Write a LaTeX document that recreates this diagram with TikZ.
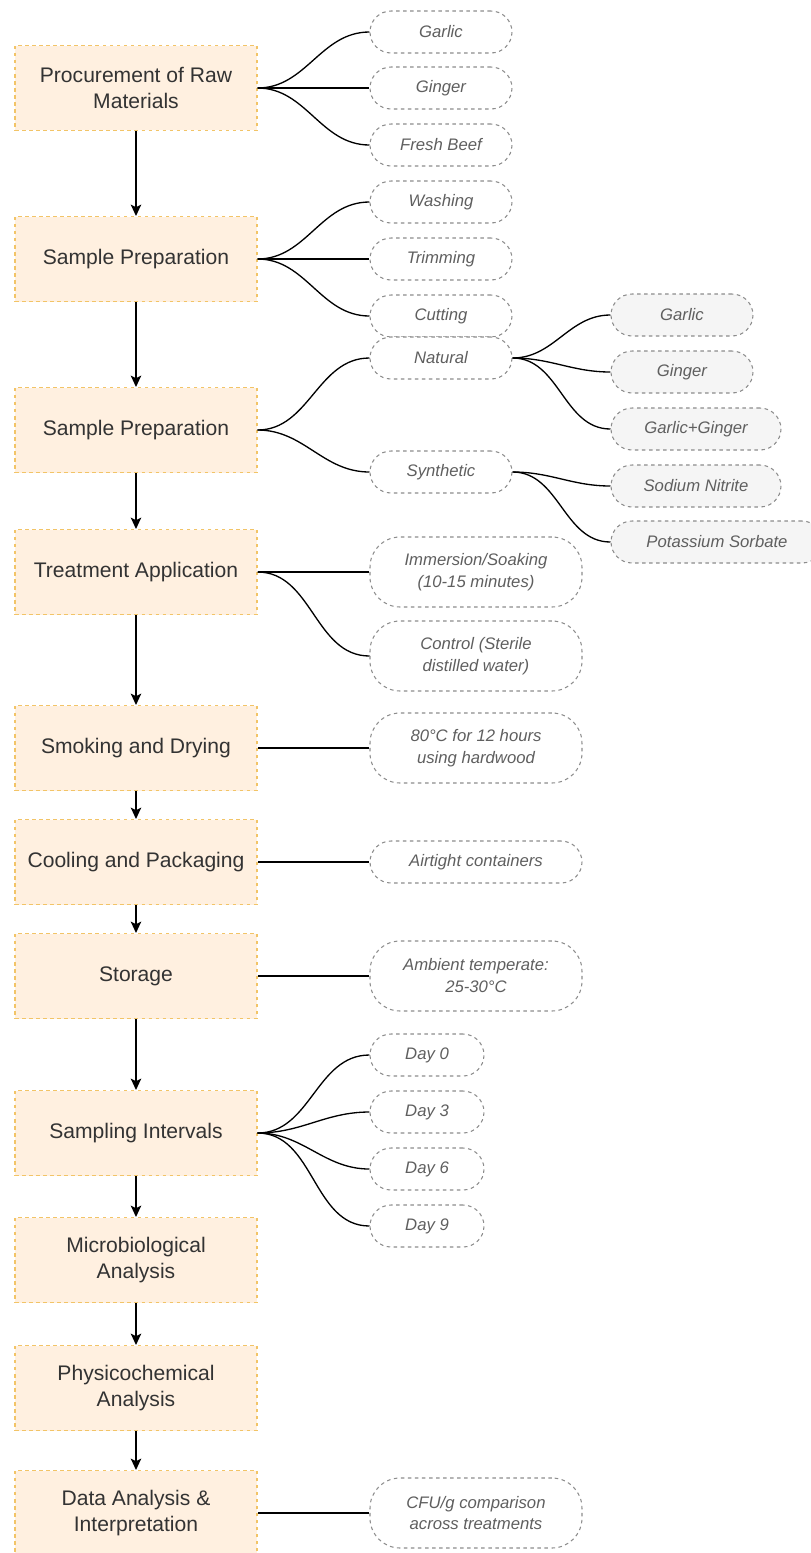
\documentclass[tikz,border=0pt]{standalone}
\usepackage{fontspec}
\setmainfont{Liberation Sans}
\usetikzlibrary{arrows.meta}

\definecolor{boxfill}{HTML}{FFF0E0}
\definecolor{boxline}{HTML}{F2C467}
\definecolor{boxtext}{HTML}{333333}
\definecolor{pillline}{HTML}{8C8C8C}
\definecolor{pilltext}{HTML}{5F5F5F}
\definecolor{subfill}{HTML}{F5F5F5}

\tikzset{
  stage/.style={draw=boxline, line width=0.6pt, dash pattern=on 2pt off 2pt, fill=boxfill,
    minimum width=4.84cm, minimum height=1.7cm, align=center, text=boxtext,
    font=\fontsize{12}{14.5}\selectfont},
  item/.style={draw=pillline, line width=0.6pt, dash pattern=on 2pt off 2pt, fill=white,
    rounded corners=0.42cm, minimum width=2.84cm, minimum height=0.84cm, align=center,
    text=pilltext, font=\fontsize{9.5}{12.5}\selectfont\itshape},
  tall/.style={item, minimum width=4.24cm, minimum height=1.4cm, rounded corners=0.6cm},
  sub/.style={item, fill=subfill},
  flow/.style={line width=0.75pt, -{Stealth[length=6.5pt,width=6pt,inset=1.5pt]}},
  link/.style={line width=0.75pt},
}

\begin{document}
\begin{tikzpicture}[x=0.02cm, y=-0.02cm]
    \useasboundingbox (0,0) rectangle (811,1553);

    % Fasi principali
    \node[stage] (raw) at (136,88) {Procurement of Raw\\Materials};
    \node[stage] (prep) at (136,259) {Sample Preparation};
    \node[stage] (prepb) at (136,430) {Sample Preparation};
    \node[stage] (apply) at (136,572) {Treatment Application};
    \node[stage] (smoke) at (136,748) {Smoking and Drying};
    \node[stage] (cool) at (136,862) {Cooling and Packaging};
    \node[stage] (store) at (136,976) {Storage};
    \node[stage] (interval) at (136,1133) {Sampling Intervals};
    \node[stage] (micro) at (136,1260) {Microbiological\\Analysis};
    \node[stage] (physico) at (136,1388) {Physicochemical\\Analysis};
    \node[stage] (data) at (136,1513) {Data Analysis \&\\Interpretation};

    % Frecce tra le fasi
    \draw[flow] (raw) -- (prep);
    \draw[flow] (prep) -- (prepb);
    \draw[flow] (prepb) -- (apply);
    \draw[flow] (apply) -- (smoke);
    \draw[flow] (smoke) -- (cool);
    \draw[flow] (cool) -- (store);
    \draw[flow] (store) -- (interval);
    \draw[flow] (interval) -- (micro);
    \draw[flow] (micro) -- (physico);
    \draw[flow] (physico) -- (data);

    % Materie prime
    \node[item] (garlic) at (441,32) {Garlic};
    \node[item] (ginger) at (441,88) {Ginger};
    \node[item] (beef) at (441,145) {Fresh Beef};
    \foreach \n in {garlic,ginger,beef}
        \draw[link] (raw.east) to[out=0,in=180] (\n.west);

    % Preparazione
    \node[item] (wash) at (441,202) {Washing};
    \node[item] (trim) at (441,259) {Trimming};
    \node[item] (cut) at (441,316) {Cutting};
    \foreach \n in {wash,trim,cut}
        \draw[link] (prep.east) to[out=0,in=180] (\n.west);

    % Conservanti
    \node[item] (natural) at (441,358) {Natural};
    \node[item] (synth) at (441,472) {Synthetic};
    \foreach \n in {natural,synth}
        \draw[link] (prepb.east) to[out=0,in=180] (\n.west);

    \node[sub] (garlicb) at (682,315) {Garlic};
    \node[sub] (gingerb) at (682,372) {Ginger};
    \node[sub, minimum width=3.4cm] (mix) at (696,429) {Garlic+Ginger};
    \foreach \n in {garlicb,gingerb,mix}
        \draw[link] (natural.east) to[out=0,in=180] (\n.west);

    \node[sub, minimum width=3.4cm] (nitrite) at (696,486) {Sodium Nitrite};
    \node[sub, minimum width=4.24cm] (sorbate) at (717,542) {Potassium Sorbate};
    \foreach \n in {nitrite,sorbate}
        \draw[link] (synth.east) to[out=0,in=180] (\n.west);

    % Trattamento
    \node[tall] (soak) at (476,572) {Immersion/Soaking\\(10-15 minutes)};
    \node[tall] (control) at (476,656) {Control (Sterile\\distilled water)};
    \draw[link] (apply.east) -- (soak.west);
    \draw[link] (apply.east) to[out=0,in=180] (control.west);

    % Affumicatura, confezionamento, conservazione
    \node[tall] (heat) at (476,748) {80°C for 12 hours\\using hardwood};
    \draw[link] (smoke.east) -- (heat.west);
    \node[item, minimum width=4.24cm] (airtight) at (476,862) {Airtight containers};
    \draw[link] (cool.east) -- (airtight.west);
    \node[tall] (ambient) at (476,976) {Ambient temperate:\\25-30°C};
    \draw[link] (store.east) -- (ambient.west);

    % Giorni di campionamento
    \node[item, minimum width=2.28cm] (d0) at (427,1055) {Day 0};
    \node[item, minimum width=2.28cm] (d3) at (427,1112) {Day 3};
    \node[item, minimum width=2.28cm] (d6) at (427,1169) {Day 6};
    \node[item, minimum width=2.28cm] (d9) at (427,1226) {Day 9};
    \foreach \n in {d0,d3,d6,d9}
        \draw[link] (interval.east) to[out=0,in=180] (\n.west);

    % Analisi dati
    \node[tall] (cfu) at (476,1513) {CFU/g comparison\\across treatments};
    \draw[link] (data.east) -- (cfu.west);
\end{tikzpicture}
\end{document}
